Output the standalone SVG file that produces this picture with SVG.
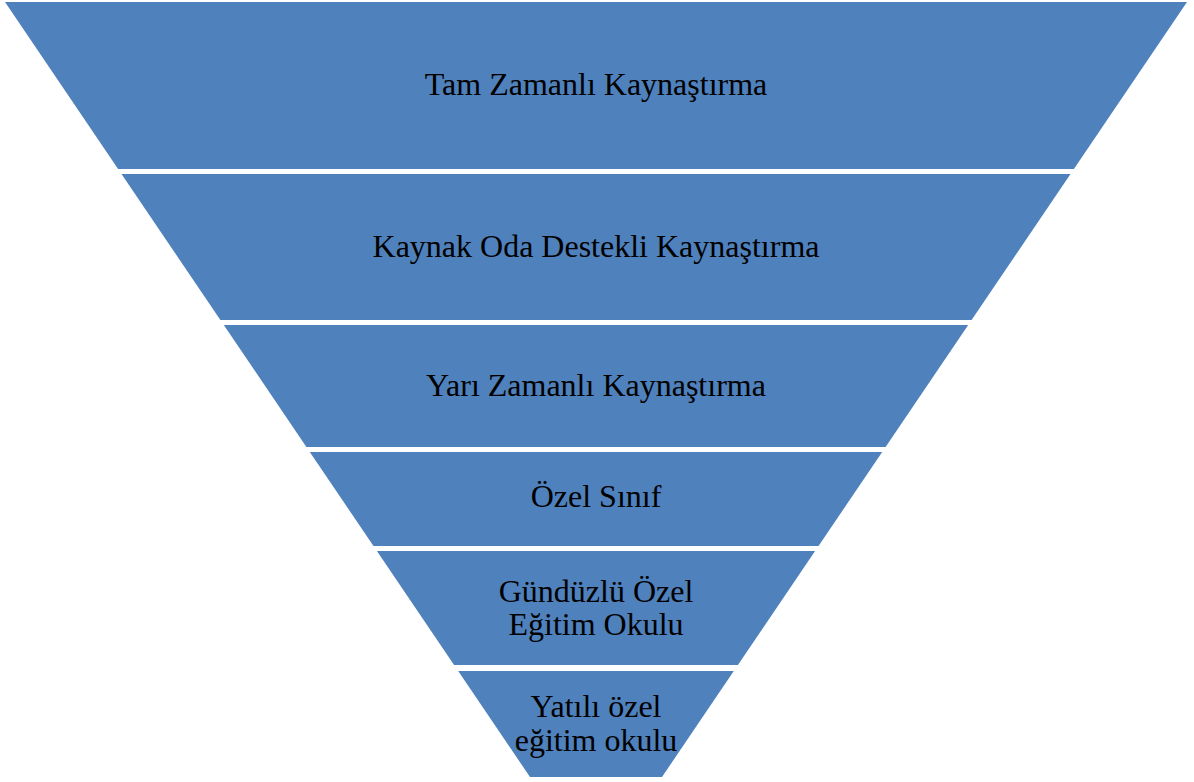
<svg xmlns="http://www.w3.org/2000/svg" width="1194" height="782" viewBox="0 0 1194 782">
<style>
.band{fill:#4F81BD;}
.lbl{font-family:"Liberation Serif","Times New Roman",serif;font-size:32px;fill:#000;text-anchor:middle;}
</style>
<rect width="1194" height="782" fill="#fff"/>
<g id="level1"><polygon class="band" points="5,2 1187,2 1073.9,169 118.1,169"/><text class="lbl" x="596" y="95">Tam Zamanlı Kaynaştırma</text></g>
<g id="level2"><polygon class="band" points="121.5,174 1070.5,174 971.6,320 220.4,320"/><text class="lbl" x="596" y="257">Kaynak Oda Destekli Kaynaştırma</text></g>
<g id="level3"><polygon class="band" points="223.8,325 968.2,325 885.6,447 306.4,447"/><text class="lbl" x="596" y="396">Yarı Zamanlı Kaynaştırma</text></g>
<g id="level4"><polygon class="band" points="309.8,452 882.2,452 818.5,546 373.5,546"/><text class="lbl" x="596" y="507">Özel Sınıf</text></g>
<g id="level5"><polygon class="band" points="376.9,551 815.1,551 737.9,665 454.1,665"/><text class="lbl" x="596" y="602">Gündüzlü Özel</text><text class="lbl" x="596" y="635">Eğitim Okulu</text></g>
<g id="level6"><polygon class="band" points="458.2,671 733.8,671 662,777 530,777"/><text class="lbl" x="596" y="717">Yatılı özel</text><text class="lbl" x="596" y="751">eğitim okulu</text></g>
<g id="connectors"></g>
</svg>
